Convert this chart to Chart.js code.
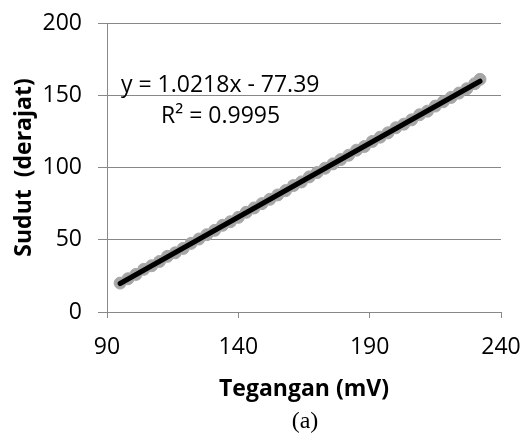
<!DOCTYPE html>
<html>
<head>
<meta charset="utf-8">
<script src="https://cdn.jsdelivr.net/npm/chart.js@4"></script>
<style>
  html, body { margin: 0; padding: 0; background: #fff; }
  #wrap { width: 528px; height: 435px; }
</style>
</head>
<body>
<div id="wrap"><canvas id="myChart" width="528" height="435"></canvas></div>
<script>
const tegangan = [95, 98, 101, 104, 107, 110, 113, 116, 119, 122, 125, 128, 131, 134, 137, 140,
  143, 146, 149, 152, 155, 158, 161, 164, 167, 170, 173, 176, 179, 182, 185, 188, 191, 194,
  197, 200, 203, 206, 209, 212, 215, 218, 221, 224, 227, 230, 232];
const sudut = [20, 23, 26, 29.5, 32, 35, 38.5, 41, 44, 47.5, 50.5, 53.5, 56.5, 60, 62.5, 65.5,
  69, 72, 75, 78, 81, 84, 87.5, 90, 93.5, 96.5, 99.5, 102.5, 105.5, 108.5, 112, 114.5, 118, 121,
  124, 127.5, 130, 133, 136.5, 139, 142.5, 145.5, 148.5, 151.5, 154.5, 158, 161];
const trendX = [95, 232];
const trendY = [19.7, 159.7];
const xTicks = [90, 140, 190, 240];
const yTicks = [0, 50, 100, 150, 200];
const eqLines = ['y = 1.0218x - 77.39', 'R² = 0.9995'];

const canvas = document.getElementById('myChart');
const gridColor = '#888888';
const fontFamily = "'Open Sans', sans-serif";

const textPlugin = {
  id: 'textPlugin',
  afterDraw(chart) {
    const ctx = chart.ctx;
    ctx.save();
    ctx.fillStyle = '#000';
    ctx.font = '23px ' + fontFamily;
    ctx.textBaseline = 'middle';
    ctx.textAlign = 'left';
    ctx.fillText(eqLines[0], 121, 85);
    ctx.fillText(eqLines[1], 161, 116);
    ctx.font = '24px "Liberation Serif", serif';
    ctx.textAlign = 'center';
    ctx.fillText('(a)', 305, 422);
    ctx.restore();
  }
};

const config = {
  type: 'scatter',
  data: {
    datasets: [
      {
        label: 'Linear',
        type: 'line',
        data: trendX.map((x, i) => ({ x: x, y: trendY[i] })),
        borderColor: '#000000',
        borderWidth: 5,
        pointRadius: 0,
        borderCapStyle: 'round',
        order: 0
      },
      {
        label: 'Sudut',
        data: tegangan.map((x, i) => ({ x: x, y: sudut[i] })),
        backgroundColor: '#a6a6a6',
        borderColor: '#a6a6a6',
        pointRadius: 6,
        pointHoverRadius: 6,
        order: 1
      }
    ]
  },
  options: {
    responsive: false,
    animation: false,
    layout: { padding: { left: 0, top: 23, right: 27, bottom: 0 } },
    plugins: {
      legend: { display: false },
      tooltip: { enabled: false }
    },
    scales: {
      x: {
        type: 'linear',
        min: 90,
        max: 240,
        afterBuildTicks: (scale) => { scale.ticks = xTicks.map(v => ({ value: v })); },
        afterFit: (scale) => {
          scale.height = 123;
          scale.paddingLeft = 0;
          scale.paddingRight = 0;
        },
        border: { display: true, color: gridColor, width: 1 },
        grid: { drawOnChartArea: false, drawTicks: true, tickLength: 6, color: gridColor },
        ticks: { color: '#000', padding: 16, font: { size: 23, family: fontFamily } },
        title: {
          display: true,
          text: 'Tegangan (mV)',
          color: '#000',
          font: { size: 23, weight: 'bold', family: fontFamily },
          padding: { top: 0, bottom: 32 }
        }
      },
      y: {
        min: 0,
        max: 200,
        afterBuildTicks: (scale) => { scale.ticks = yTicks.map(v => ({ value: v })); },
        afterFit: (scale) => {
          scale.width = 107;
          scale.paddingTop = 0;
          scale.paddingBottom = 0;
        },
        border: { display: true, color: gridColor, width: 1 },
        grid: { drawOnChartArea: true, drawTicks: true, tickLength: 9, color: gridColor },
        ticks: { color: '#000', padding: 16, font: { size: 23, family: fontFamily } },
        title: {
          display: true,
          text: 'Sudut  (derajat)',
          color: '#000',
          font: { size: 23, weight: 'bold', family: fontFamily },
          padding: { top: 11, bottom: 0 }
        }
      }
    }
  },
  plugins: [textPlugin]
};

const chartObject = new Chart(canvas, config);
</script>
</body>
</html>
